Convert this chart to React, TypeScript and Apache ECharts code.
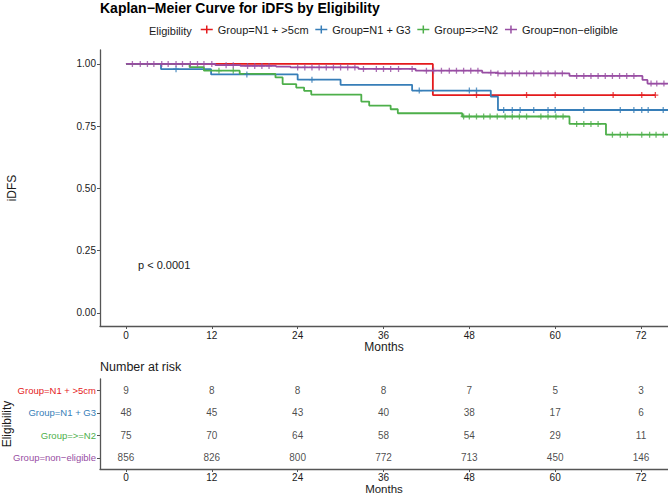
import { useEffect, useRef } from "react";
import * as echarts from "echarts";

const groups = ["Group=N1 + >5cm", "Group=N1 + G3", "Group=>=N2", "Group=non−eligible"];
const colors = ["#E41A1C", "#377EB8", "#4DAF4A", "#984EA3"];
const monthTicks = [0, 12, 24, 36, 48, 60, 72];
const survTicks = [0, 0.25, 0.5, 0.75, 1];

// Kaplan-Meier steps: [month, survival]
const kmRed = [[0, 1], [42.9, 0.875], [74, 0.875]];
const kmBlue = [[0, 1], [4.9, 0.979], [11.9, 0.958], [24, 0.937], [30, 0.916], [40, 0.893], [51, 0.869], [52, 0.815], [76, 0.815]];
const kmGreen = [[0, 1], [8.9, 0.987], [10.9, 0.973], [15.9, 0.96], [20.9, 0.946], [21.9, 0.919], [23.8, 0.905], [24.9, 0.892], [25.9, 0.877], [32.9, 0.849], [34, 0.833], [37, 0.818], [38, 0.802], [47, 0.789], [62, 0.759], [67.1, 0.716], [76, 0.716]];
const kmPurple = [[0, 1], [12.5, 0.995], [16, 0.992], [21, 0.989], [23, 0.986], [32.5, 0.98], [40.5, 0.973], [49.8, 0.965], [52, 0.962], [62, 0.952], [72.2, 0.936], [72.9, 0.921], [76, 0.921]];

// censoring times (months)
const censRed = [49, 56, 60, 68.1, 72.1, 74];
const censBlue = [7, 16.9, 26, 41, 48, 49, 52.8, 54, 55.1, 57, 59, 60, 64, 69.1, 71, 72.1, 73, 75.1];
const censGreen = [13, 15, 47.2, 48, 49, 50, 50.9, 51.9, 53, 54, 55, 56, 58, 59, 60.1, 61.1, 63, 64, 65, 66, 68, 69.1, 70.1, 72.1, 73.2, 74.1, 75.1];
const censPurple = [0.9, 2, 3, 3.9, 5, 5.9, 7, 7.9, 9, 10, 10.9, 12, 14, 15, 17, 18, 19, 20, 24, 25, 26, 27, 28, 29, 30, 31, 32, 33.2, 35, 36, 37, 38.1, 40, 42, 43, 44.1, 45.2, 46.2, 47.2, 48.2, 49.2, 51, 52, 53, 54, 55, 56, 57, 58, 59, 60, 61, 63, 64, 65, 66, 67, 68, 69, 70, 71, 73.4, 74.2, 75.2];

// number at risk at monthTicks
const riskRed = [9, 8, 8, 8, 7, 5, 3];
const riskBlue = [48, 45, 43, 40, 38, 17, 6];
const riskGreen = [75, 70, 64, 58, 54, 29, 11];
const riskPurple = [856, 826, 800, 772, 713, 450, 146];

const kms = [kmRed, kmBlue, kmGreen, kmPurple];
const cens = [censRed, censBlue, censGreen, censPurple];
const risks = [riskRed, riskBlue, riskGreen, riskPurple];

function survAt(steps: number[][], t: number) {
  let s = 1;
  for (const [tt, v] of steps) if (tt <= t) s = v;
  return s;
}

const FONT = "Liberation Sans, Arial, Helvetica, sans-serif";
const X_MIN = -3.63;
const X_MAX = 75.77;
const AXIS_COLOR = "#555";
const TEXT_COLOR = "#1a1a1a";

export default function App() {
  const ref = useRef<HTMLDivElement>(null);
  useEffect(() => {
    if (!ref.current) return;
    const chart = echarts.init(ref.current, null, { renderer: "svg" });
    const lineSeries = groups.map((g, i) => ({
      name: g,
      type: "line",
      step: "end",
      xAxisIndex: 0,
      yAxisIndex: 0,
      showSymbol: false,
      symbol: "none",
      data: kms[i],
      lineStyle: { color: colors[i], width: 1.8 },
      itemStyle: { color: colors[i] },
      z: 2,
    }));
    const censSeries = groups.map((g, i) => ({
      name: g,
      type: "scatter",
      xAxisIndex: 0,
      yAxisIndex: 0,
      symbol: "path://M5,0L5,10M0,5L10,5",
      symbolSize: 6,
      data: cens[i].map((t) => [t, survAt(kms[i], t)]),
      itemStyle: { color: "rgba(0,0,0,0)", borderColor: colors[i], borderWidth: 1.3 },
      z: 3,
    }));
    const riskSeries = groups.map((g, i) => ({
      name: "risk" + i,
      type: "scatter",
      xAxisIndex: 1,
      yAxisIndex: 1,
      symbolSize: 1,
      itemStyle: { color: "rgba(0,0,0,0)" },
      data: monthTicks.map((m, k) => [m, g, risks[i][k]]),
      label: {
        show: true,
        position: "inside",
        formatter: (p: any) => String(p.value[2]),
        color: TEXT_COLOR,
        fontSize: 10,
        fontFamily: FONT,
      },
    }));

    const xAxisBase = (gridIndex: number, gap: number, margin: number, nameSize: number) => ({
      type: "value",
      gridIndex,
      min: X_MIN,
      max: X_MAX,
      name: "Months",
      nameLocation: "middle",
      nameGap: gap,
      nameMoveOverlap: false,
      nameTextStyle: { fontSize: nameSize, color: TEXT_COLOR },
      axisLine: { show: true, onZero: false, lineStyle: { color: AXIS_COLOR, width: 1.3 } },
      axisTick: { show: true, length: 3, customValues: monthTicks, lineStyle: { color: AXIS_COLOR } },
      axisLabel: { customValues: monthTicks, fontSize: 10, color: TEXT_COLOR, margin },
      splitLine: { show: false },
    });

    chart.setOption({
      animation: false,
      backgroundColor: "#fff",
      textStyle: { fontFamily: FONT },
      title: {
        text: "Kaplan−Meier Curve for iDFS by Eligibility",
        left: 100,
        top: 1,
        padding: 0,
        textStyle: { fontSize: 14, fontWeight: "bold", color: "#000", fontFamily: FONT },
      },
      legend: {
        left: 200,
        top: 24,
        itemWidth: 12,
        itemHeight: 8,
        itemGap: 6,
        selectedMode: false,
        padding: 0,
        textStyle: { fontSize: 11, color: TEXT_COLOR, fontFamily: FONT },
        data: groups.map((g, i) => ({
          name: g,
          icon: "path://M0,4L12,4M6,0L6,8",
          itemStyle: { color: "rgba(0,0,0,0)", borderColor: colors[i], borderWidth: 1.5 },
        })),
      },
      graphic: [
        { type: "text", left: 149, top: 25, style: { text: "Eligibility", fontSize: 11, fill: TEXT_COLOR, fontFamily: FONT } },
        { type: "text", left: 100, top: 360, style: { text: "Number at risk", fontSize: 12.5, fill: TEXT_COLOR, fontFamily: FONT } },
        { type: "text", left: 138, top: 259, style: { text: "p < 0.0001", fontSize: 11, fill: TEXT_COLOR, fontFamily: FONT } },
      ],
      grid: [
        { left: 100, right: 0, top: 50, height: 276, outerBoundsMode: "none", containLabel: false },
        { left: 100, right: 0, top: 379, height: 90, outerBoundsMode: "none", containLabel: false },
      ],
      xAxis: [xAxisBase(0, 15, 4, 12), xAxisBase(1, 13.5, 3, 11.5)],
      yAxis: [
        {
          type: "value",
          gridIndex: 0,
          min: -0.0522,
          max: 1.056,
          name: "iDFS",
          nameLocation: "middle",
          nameGap: 82,
          nameMoveOverlap: false,
          nameTextStyle: { fontSize: 12, color: TEXT_COLOR },
          axisLine: { show: true, onZero: false, lineStyle: { color: AXIS_COLOR, width: 1.3 } },
          axisTick: { show: true, length: 3, customValues: survTicks, lineStyle: { color: AXIS_COLOR } },
          axisLabel: {
            customValues: survTicks,
            fontSize: 10,
            color: TEXT_COLOR,
            margin: 4,
            formatter: (v: number) => v.toFixed(2),
          },
          splitLine: { show: false },
        },
        {
          type: "category",
          gridIndex: 1,
          data: groups,
          inverse: true,
          name: "Eligibility",
          nameLocation: "middle",
          nameGap: 87,
          nameMoveOverlap: false,
          nameTextStyle: { fontSize: 12, color: TEXT_COLOR },
          axisLine: { show: true, onZero: false, lineStyle: { color: AXIS_COLOR, width: 1.3 } },
          axisTick: { show: true, length: 3, alignWithLabel: true, lineStyle: { color: AXIS_COLOR } },
          axisLabel: {
            fontSize: 9.5,
            margin: 4,
            color: (_v: any, idx: number) => colors[idx],
          },
          splitLine: { show: false },
        },
      ],
      series: [...lineSeries, ...censSeries, ...riskSeries],
    });
    return () => chart.dispose();
  }, []);
  return (
    <div
      ref={ref}
      style={{ position: "fixed", left: 0, top: 0, width: 668, height: 494, background: "#fff" }}
    />
  );
}
